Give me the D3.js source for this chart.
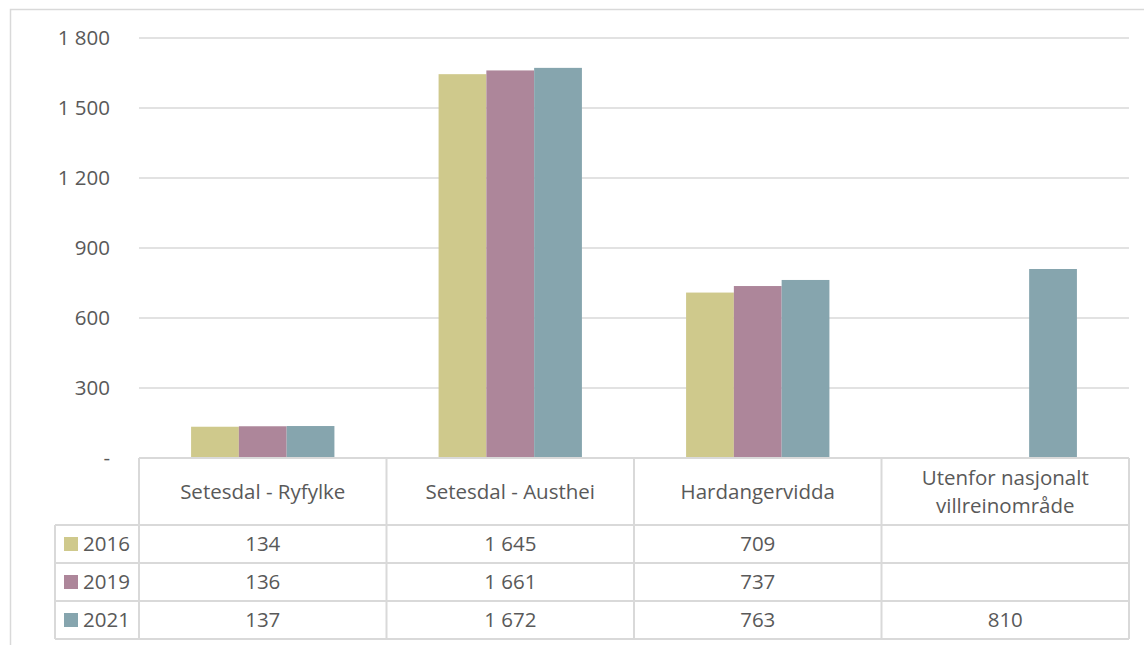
<!DOCTYPE html>
<html>
<head>
<meta charset="utf-8">
<script src="https://cdn.jsdelivr.net/npm/d3@7"></script>
<style>
  body { margin: 0; background: #fff; }
  svg { display: block; font-family: "Open Sans", "Noto Sans", sans-serif; }
</style>
</head>
<body>
<svg id="chart" width="1144" height="645"></svg>
<script>
let categories = [['Setesdal - Ryfylke'], ['Setesdal - Austhei'], ['Hardangervidda'], ['Utenfor nasjonalt', 'villreinområde']]
let years = ['2016', '2019', '2021']
let values2016 = [134, 1645, 709, null]
let values2019 = [136, 1661, 737, null]
let values2021 = [137, 1672, 763, 810]
let yTicks = [0, 300, 600, 900, 1200, 1500, 1800]
let colors = ['#cfc98c', '#ad869a', '#86a5ae']

let series = [values2016, values2019, values2021]

let svg = d3.select('#chart')
let grey = '#d9d9d9'
let textColor = '#595959'
let fontSize = 20.5

let plotLeft = 139, plotRight = 1129, plotTop = 38, base = 458
let rowTops = [458, 525, 563, 601, 639]

// outer chart border
svg.append('path')
   .attr('d', 'M10.5,650 V9.5 H1150')
   .attr('fill', 'none')
   .attr('stroke', grey)
   .attr('stroke-width', 1.5)

let y = d3.scaleLinear().domain([0, 1800]).range([base, plotTop])
let x0 = d3.scaleBand().domain(d3.range(categories.length)).range([plotLeft, plotRight])
let x1 = d3.scaleBand().domain(d3.range(years.length)).range([0, x0.bandwidth()]).paddingOuter(1.09)

let fmt = (v) => v === 0 ? '-' : d3.format(',')(v).replace(/,/g, ' ')

// gridlines
svg.append('g')
   .selectAll('line')
   .data(yTicks.filter(d => d > 0))
   .enter()
   .append('line')
   .attr('x1', plotLeft).attr('x2', plotRight)
   .attr('y1', d => y(d)).attr('y2', d => y(d))
   .attr('stroke', grey)
   .attr('stroke-width', 1.5)

// y axis labels
svg.append('g')
   .selectAll('text')
   .data(yTicks)
   .enter()
   .append('text')
   .attr('x', 110)
   .attr('y', d => y(d) + 7)
   .attr('text-anchor', 'end')
   .attr('font-size', fontSize)
   .attr('fill', textColor)
   .text(d => fmt(d))

// bars
series.forEach((vals, si) => {
  let pts = vals.map((v, ci) => ({ ci: ci, v: v })).filter(d => d.v != null)
  svg.append('g')
     .selectAll('rect')
     .data(pts)
     .enter()
     .append('rect')
     .attr('x', d => x0(d.ci) + x1(si))
     .attr('y', d => y(d.v))
     .attr('width', x1.bandwidth())
     .attr('height', d => base - y(d.v))
     .attr('fill', colors[si])
})

// data table
let table = svg.append('g')
  .attr('stroke', grey)
  .attr('stroke-width', 2)
  .attr('fill', 'none')

table.append('line').attr('x1', plotLeft).attr('x2', plotRight).attr('y1', base).attr('y2', base)
rowTops.slice(1).forEach(ry => {
  table.append('line').attr('x1', 55).attr('x2', plotRight).attr('y1', ry).attr('y2', ry)
})
table.append('line').attr('x1', 55).attr('x2', 55).attr('y1', rowTops[1]).attr('y2', rowTops[4])
d3.range(categories.length + 1).forEach(i => {
  let xx = i < categories.length ? x0(i) : plotRight
  table.append('line').attr('x1', xx).attr('x2', xx).attr('y1', base).attr('y2', rowTops[4])
})

// header text
categories.forEach((lines, i) => {
  let cx = x0(i) + x0.bandwidth() / 2
  let cy = (rowTops[0] + rowTops[1]) / 2
  lines.forEach((line, li) => {
    svg.append('text')
       .attr('x', cx)
       .attr('y', cy + 7 + (li - (lines.length - 1) / 2) * 28)
       .attr('text-anchor', 'middle')
       .attr('font-size', fontSize)
       .attr('fill', textColor)
       .text(line)
  })
})

// legend + values
years.forEach((yr, si) => {
  let cy = (rowTops[si + 1] + rowTops[si + 2]) / 2
  svg.append('rect')
     .attr('x', 64).attr('y', cy - 7)
     .attr('width', 14).attr('height', 14)
     .attr('fill', colors[si])
  svg.append('text')
     .attr('x', 83).attr('y', cy + 7)
     .attr('font-size', fontSize)
     .attr('fill', textColor)
     .text(yr)
  series[si].forEach((v, ci) => {
    if (v == null) return
    svg.append('text')
       .attr('x', x0(ci) + x0.bandwidth() / 2)
       .attr('y', cy + 7)
       .attr('text-anchor', 'middle')
       .attr('font-size', fontSize)
       .attr('fill', textColor)
       .text(fmt(v))
  })
})
</script>
</body>
</html>
